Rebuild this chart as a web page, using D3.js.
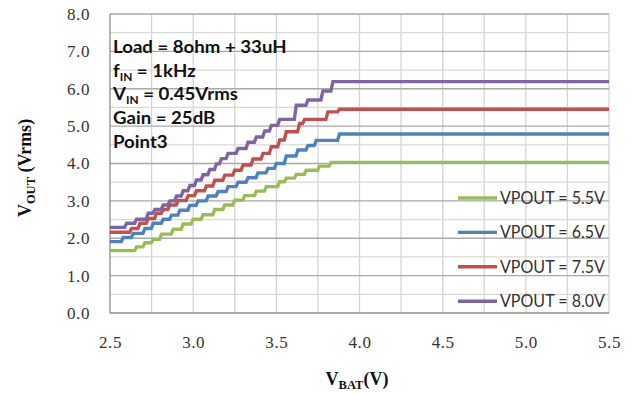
<!DOCTYPE html>
<html>
<head>
<meta charset="utf-8">
<script src="https://cdn.jsdelivr.net/npm/d3@7"></script>
<style>
  html, body { margin: 0; padding: 0; background: #fff; }
  svg { display: block; }
</style>
</head>
<body>
<svg id="chart" width="631" height="394"></svg>
<script>
// Axis ticks
const vbatTicks = [2.5, 3.0, 3.5, 4.0, 4.5, 5.0, 5.5];
const voutTicks = [0, 1, 2, 3, 4, 5, 6, 7, 8];

// Legend labels, one per series
const seriesLabels = ["VPOUT = 5.5V", "VPOUT = 6.5V", "VPOUT = 7.5V", "VPOUT = 8.0V"];
const seriesColors = ["#9BBB59", "#4F81BD", "#C0504D", "#8064A2"];

// Output level steps: [VBAT where the level starts, VOUT (Vrms)]
const vpout55 = [
  [2.50, 1.67], [2.66, 1.77], [2.71, 1.88], [2.76, 1.97], [2.81, 2.11], [2.88, 2.24],
  [2.94, 2.38], [3.00, 2.51], [3.06, 2.63], [3.13, 2.77], [3.19, 2.89], [3.25, 3.02],
  [3.31, 3.14], [3.38, 3.26], [3.44, 3.38], [3.52, 3.51], [3.56, 3.61], [3.62, 3.71],
  [3.68, 3.82], [3.76, 3.93], [3.83, 4.03], [5.50, 4.03]
];
const vpout65 = [
  [2.50, 1.91], [2.58, 2.02], [2.64, 2.13], [2.71, 2.26], [2.76, 2.40], [2.82, 2.51],
  [2.87, 2.62], [2.92, 2.75], [2.98, 2.88], [3.03, 3.00], [3.09, 3.13], [3.15, 3.25],
  [3.21, 3.38], [3.27, 3.50], [3.33, 3.62], [3.39, 3.75], [3.45, 3.87], [3.50, 4.00],
  [3.56, 4.20], [3.63, 4.36], [3.69, 4.48], [3.74, 4.62], [3.88, 4.79], [5.50, 4.79]
];
const vpout75 = [
  [2.50, 2.16], [2.63, 2.26], [2.68, 2.40], [2.73, 2.53], [2.78, 2.67], [2.82, 2.77],
  [2.86, 2.89], [2.91, 3.01], [2.97, 3.14], [3.02, 3.27], [3.08, 3.40], [3.13, 3.55],
  [3.19, 3.69], [3.25, 3.82], [3.30, 3.96], [3.36, 4.12], [3.42, 4.27], [3.47, 4.45],
  [3.52, 4.63], [3.56, 4.85], [3.64, 5.07], [3.67, 5.18], [3.81, 5.38], [3.88, 5.45],
  [5.50, 5.45]
];
const vpout80 = [
  [2.50, 2.29], [2.60, 2.40], [2.66, 2.51], [2.73, 2.67], [2.77, 2.77], [2.82, 2.89],
  [2.86, 3.00], [2.90, 3.13], [2.94, 3.27], [2.98, 3.41], [3.02, 3.56], [3.06, 3.70],
  [3.10, 3.84], [3.14, 3.99], [3.17, 4.13], [3.21, 4.27], [3.27, 4.40], [3.33, 4.57],
  [3.38, 4.71], [3.43, 4.87], [3.47, 5.02], [3.52, 5.18], [3.62, 5.56], [3.69, 5.70],
  [3.78, 5.94], [3.84, 6.19], [5.50, 6.19]
];
const seriesData = [vpout55, vpout65, vpout75, vpout80];

const svg = d3.select("#chart");
const x = d3.scaleLinear().domain([2.5, 5.5]).range([110, 609]);
const y = d3.scaleLinear().domain([0, 8]).range([313, 14]);

// Grid: vertical every 0.25 V, horizontal every 0.5 V (integers darker)
const grid = svg.append("g");
grid.selectAll("line.v")
  .data(d3.range(2.75, 5.5001, 0.25))
  .join("line")
  .attr("x1", d => x(d)).attr("x2", d => x(d))
  .attr("y1", y(8)).attr("y2", y(0))
  .attr("stroke", "#D4D4D4").attr("stroke-width", 1.3);
grid.selectAll("line.h")
  .data(d3.range(0.5, 8.001, 0.5))
  .join("line")
  .attr("x1", x(2.5)).attr("x2", x(5.5))
  .attr("y1", d => y(d)).attr("y2", d => y(d))
  .attr("stroke", d => Number.isInteger(d) ? "#A9A9A9" : "#D9D9D9")
  .attr("stroke-width", 1.3);

// Axis frame (left and bottom)
svg.append("line").attr("x1", x(2.5)).attr("x2", x(2.5)).attr("y1", y(8)).attr("y2", y(0))
  .attr("stroke", "#8C8C8C").attr("stroke-width", 1.3);
svg.append("line").attr("x1", x(2.5)).attr("x2", x(5.5)).attr("y1", y(0)).attr("y2", y(0))
  .attr("stroke", "#8C8C8C").attr("stroke-width", 1.3);

// Tick labels through d3 axes
const tickFont = "'Liberation Serif', 'Times New Roman', serif";
const yAxis = svg.append("g").attr("transform", `translate(${x(2.5)},0)`)
  .call(d3.axisLeft(y).tickValues(voutTicks).tickFormat(d3.format(".1f")).tickSize(0).tickPadding(20));
const xAxis = svg.append("g").attr("transform", `translate(0,${y(0)})`)
  .call(d3.axisBottom(x).tickValues(vbatTicks).tickFormat(d3.format(".1f")).tickSize(0).tickPadding(23));
[yAxis, xAxis].forEach(g => {
  g.select(".domain").remove();
  g.selectAll("text").attr("font-family", tickFont).attr("font-size", 17)
    .attr("letter-spacing", 0.6).attr("fill", "#333");
});

// Stepped output curves
const rise = 0.012;
function stepPoints(steps) {
  const pts = [steps[0]];
  for (let i = 1; i < steps.length; i++) {
    const prev = steps[i - 1], cur = steps[i];
    if (cur[1] !== prev[1]) {
      pts.push([cur[0] - rise, prev[1]]);
    }
    pts.push(cur);
  }
  return pts;
}
const line = d3.line().x(d => x(d[0])).y(d => y(d[1]));
svg.append("g").selectAll("path")
  .data(seriesData)
  .join("path")
  .attr("d", d => line(stepPoints(d)))
  .attr("fill", "none")
  .attr("stroke", (d, i) => seriesColors[i])
  .attr("stroke-width", 3.4)
  .attr("stroke-linejoin", "miter");

// Legend
const legend = svg.append("g");
const legendFont = "Lato, 'Open Sans', sans-serif";
seriesLabels.forEach((label, i) => {
  const cy = 198 + i * 34.4;
  legend.append("line").attr("x1", 458).attr("x2", 497).attr("y1", cy).attr("y2", cy)
    .attr("stroke", seriesColors[i]).attr("stroke-width", 3.4);
  legend.append("text").attr("x", 500).attr("y", cy + 6)
    .attr("font-family", legendFont).attr("font-size", 17).attr("fill", "#333")
    .attr("textLength", 105).attr("lengthAdjust", "spacingAndGlyphs")
    .text(label);
});

// Test conditions block (slightly widened lettering)
const noteFont = "Lato, 'Open Sans', sans-serif";
const notes = svg.append("g")
  .attr("transform", "translate(113,0) scale(1.13,1)")
  .attr("font-family", noteFont).attr("font-weight", "bold")
  .attr("font-size", 16.5).attr("fill", "#111");
notes.append("text").attr("x", 0).attr("y", 53).text("Load = 8ohm + 33uH");
const fin = notes.append("text").attr("x", 0).attr("y", 77);
fin.append("tspan").text("f");
fin.append("tspan").attr("font-size", 10.5).attr("dy", 4).text("IN");
fin.append("tspan").attr("dy", -4).text(" = 1kHz");
const vin = notes.append("text").attr("x", 0).attr("y", 100);
vin.append("tspan").text("V");
vin.append("tspan").attr("font-size", 10.5).attr("dy", 4).text("IN");
vin.append("tspan").attr("dy", -4).text(" = 0.45Vrms");
notes.append("text").attr("x", 0).attr("y", 124).text("Gain = 25dB");
notes.append("text").attr("x", 0).attr("y", 148).text("Point3");

// Axis titles
const titleFont = "'Liberation Serif', 'Times New Roman', serif";
const yTitle = svg.append("text")
  .attr("transform", "translate(31,168) rotate(-90)")
  .attr("text-anchor", "middle")
  .attr("font-family", titleFont).attr("font-weight", "bold").attr("font-size", 18).attr("fill", "#111");
yTitle.append("tspan").text("V");
yTitle.append("tspan").attr("font-size", 12.5).attr("dy", 4).text("OUT");
yTitle.append("tspan").attr("dy", -4).text(" (Vrms)");

const xTitle = svg.append("text")
  .attr("x", 357).attr("y", 385)
  .attr("text-anchor", "middle")
  .attr("font-family", titleFont).attr("font-weight", "bold").attr("font-size", 18).attr("fill", "#111");
xTitle.append("tspan").text("V");
xTitle.append("tspan").attr("font-size", 12.5).attr("dy", 4).text("BAT");
xTitle.append("tspan").attr("dy", -4).text("(V)");
</script>
</body>
</html>
